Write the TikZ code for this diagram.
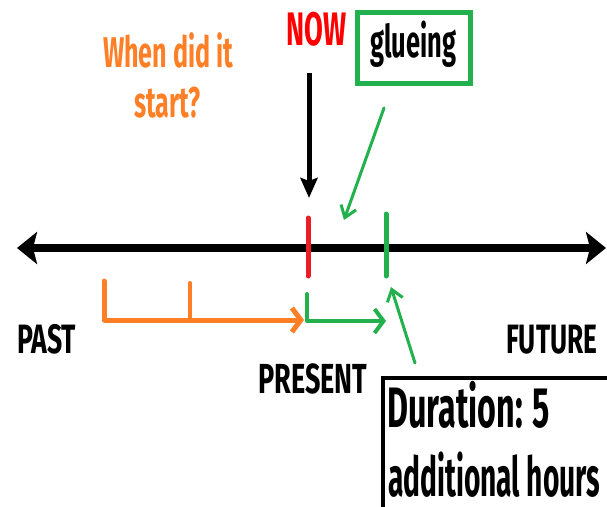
\documentclass[tikz,border=0pt]{standalone}
\usepackage{fontspec}
\usepackage{graphicx}
\setmainfont{Fira Sans}
\usetikzlibrary{arrows.meta}
\definecolor{pred}{HTML}{ED1C24}
\definecolor{nowred}{HTML}{FF0000}
\definecolor{pgreen}{HTML}{22B14C}
\definecolor{porange}{HTML}{FF7F27}
\newcommand\sqt[3]{\resizebox{#1pt}{\height}{\fontsize{#2}{#2}\selectfont\bfseries #3}}
\tikzset{
  lbl/.style={inner sep=0pt, anchor=base west},
  axisline/.style={line width=8pt, {Stealth[length=20pt,width=32pt,inset=4pt]}-{Stealth[length=20pt,width=32pt,inset=4pt]}},
  tickmark/.style={line width=5pt, line cap=round},
  barb/.style={-{Straight Barb[length=9pt,width=24pt]}, line cap=round, line join=round},
  pointer/.style={pgreen, line width=3pt, -{Straight Barb[length=11pt,width=16pt]}, line cap=round}
}
\begin{document}
\begin{tikzpicture}[x=1pt,y=-1pt]
\useasboundingbox (0,0) rectangle (607,506);

% duration box (its right and bottom sides run off the picture)
\begin{scope}
\clip (0,0) rectangle (607,506);
\node[draw=black, line width=3.5pt, minimum width=240pt, minimum height=150pt, inner sep=0pt] (dbox) at (503,453) {};
\end{scope}

% main time line
\coordinate (L) at (17,248);
\coordinate (R) at (606,248);
\draw[axisline] (L) -- (R);

% ticks
\coordinate (rt1) at (308,218);
\coordinate (rt2) at (308,276);
\draw[tickmark, pred] (rt1) -- (rt2);
\coordinate (gt1) at (386,214);
\coordinate (gt2) at (386,276);
\draw[tickmark, pgreen] (gt1) -- (gt2);

% labels
\node[lbl, text=nowred] (now) at (286,45) {\sqt{60}{47}{NOW}};
\node[draw=pgreen, line width=4.5pt, minimum width=113pt, minimum height=71pt, inner sep=0pt] (gbox) at (414,48) {};
\node[lbl] (glue) at (370,57) {\sqt{86}{45}{glueing}};
\node[lbl, text=porange] (when) at (103,67) {\sqt{130}{43}{When did it}};
\node[lbl, text=porange] (start) at (134,117) {\sqt{66}{43}{start?}};
\node[lbl] (past) at (17,353) {\sqt{59}{41}{PAST}};
\node[lbl] (future) at (506,353) {\sqt{91}{41}{FUTURE}};
\node[lbl] (present) at (258,393) {\sqt{109}{42}{PRESENT}};

\node[lbl] (dur1) at (387,427) {\sqt{163}{57}{Duration: 5}};
\node[lbl] (dur2) at (388,496) {\sqt{212}{55}{additional hours}};

% NOW arrow
\coordinate (na1) at (309,73);
\coordinate (na2) at (309,198);
\draw[line width=5pt, -{Stealth[length=20pt,width=17pt,inset=3pt]}] (na1) -- (na2);

% glueing pointer
\coordinate (ga1) at (384,108);
\coordinate (ga2) at (344,220);
\draw[pointer] (ga1) -- (ga2);

% duration pointer
\coordinate (da1) at (415,363);
\coordinate (da2) at (391,287);
\draw[pointer] (da1) -- (da2);

% orange bracket
\coordinate (o1) at (104,281);
\coordinate (o2) at (104,320);
\coordinate (o3) at (304,320);
\coordinate (ot1) at (190,283);
\coordinate (ot2) at (190,320);
\draw[barb, porange, line width=5pt] (o1) -- (o2) -- (o3);
\draw[porange, line width=4pt, line cap=round] (ot1) -- (ot2);

% green bracket
\coordinate (g1) at (307,294);
\coordinate (g2) at (307,321);
\coordinate (g3) at (386,321);
\draw[barb, pgreen, line width=4pt] (g1) -- (g2) -- (g3);
\end{tikzpicture}
\end{document}
